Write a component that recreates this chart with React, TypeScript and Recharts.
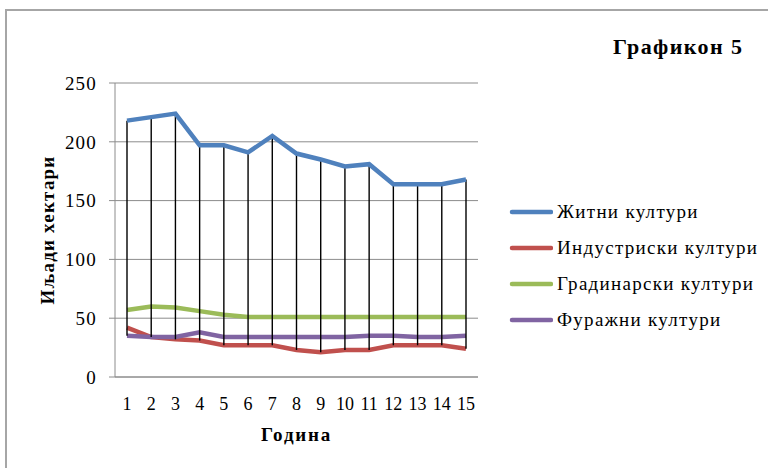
import React from 'react';
import { LineChart, Line, XAxis, YAxis, CartesianGrid, ErrorBar } from 'recharts';

const years = ['1', '2', '3', '4', '5', '6', '7', '8', '9', '10', '11', '12', '13', '14', '15'];
const zhitni = [218, 221, 224, 197, 197, 191, 205, 190, 185, 179, 181, 164, 164, 164, 168];
const industriski = [42, 34, 32, 31, 27, 27, 27, 23, 21, 23, 23, 27, 27, 27, 24];
const gradinarski = [57, 60, 59, 56, 53, 51, 51, 51, 51, 51, 51, 51, 51, 51, 51];
const furazhni = [35, 34, 34, 38, 34, 34, 34, 34, 34, 34, 35, 35, 34, 34, 35];
const yTicks = [0, 50, 100, 150, 200, 250];

const seriesKeys = ['zhitni', 'industriski', 'gradinarski', 'furazhni'];
const seriesNames = ['Житни култури', 'Индустриски култури', 'Градинарски култури', 'Фуражни култури'];
const seriesColors = ['#4F81BD', '#C0504D', '#9BBB59', '#8064A2'];

const chartTitle = 'Графикон 5';
const xTitle = 'Година';
const yTitle = 'Иљади хектари';

const data = years.map((y, i) => {
  const vals = [zhitni[i], industriski[i], gradinarski[i], furazhni[i]];
  const lo = Math.min(...vals);
  const hi = Math.max(...vals);
  return {
    year: y,
    zhitni: zhitni[i],
    industriski: industriski[i],
    gradinarski: gradinarski[i],
    furazhni: furazhni[i],
    hl: [zhitni[i] - lo, hi - zhitni[i]],
  };
});

const FONT = '"Liberation Serif", "Times New Roman", serif';
const LW = 4.5;

export default function App() {
  return (
    <div style={{ position: 'fixed', left: 0, top: 0, width: 768, height: 468, overflow: 'hidden', background: '#fff' }}>
      <div style={{ position: 'absolute', left: 5, top: 9, width: 763, height: 2, background: '#A6A6A6' }} />
      <div style={{ position: 'absolute', left: 5, top: 9, width: 2, height: 459, background: '#A6A6A6' }} />
      <div style={{ position: 'absolute', left: 613, top: 34, fontFamily: FONT, fontSize: 22, letterSpacing: 1.4, fontWeight: 'bold', color: '#000', whiteSpace: 'nowrap' }}>
        {chartTitle}
      </div>
      <div style={{ position: 'absolute', left: 506, top: 194, fontFamily: FONT, fontSize: 19, letterSpacing: 1.3, color: '#000' }}>
        {seriesNames.map((n, i) => (
          <div key={n} style={{ display: 'flex', alignItems: 'center', height: 36, whiteSpace: 'nowrap' }}>
            <svg width={47} height={8} style={{ marginRight: 4 }}>
              <line x1={6} y1={4} x2={45} y2={4} stroke={seriesColors[i]} strokeWidth={LW} strokeLinecap="round" />
            </svg>
            <span>{n}</span>
          </div>
        ))}
      </div>
      <div style={{ position: 'absolute', left: 0, top: 0 }}>
        <LineChart width={768} height={468} data={data} margin={{ top: 83, right: 290, bottom: 21, left: 35 }} style={{ fontFamily: FONT }}>
          <CartesianGrid vertical={false} stroke="#8C8C8C" strokeWidth={1} />
          <XAxis
            dataKey="year"
            height={70}
            stroke="#8C8C8C"
            tickLine={false}
            tickSize={6}
            tickMargin={14}
            padding={{ left: 12, right: 12 }}
            tick={{ fill: '#000', fontSize: 18, fontFamily: FONT }}
            interval={0}
            label={{ value: xTitle, position: 'insideBottom', offset: 6, fill: '#000', fontSize: 19, fontWeight: 'bold', fontFamily: FONT, letterSpacing: 1.8 }}
          />
          <YAxis
            width={80}
            domain={[0, 250]}
            ticks={yTicks}
            stroke="#8C8C8C"
            tickSize={6}
            tickMargin={12}
            tick={{ fill: '#000', fontSize: 19, fontFamily: FONT, letterSpacing: 1.2 }}
            label={{ value: yTitle, angle: -90, position: 'insideLeft', offset: 12, fill: '#000', fontSize: 19, fontWeight: 'bold', fontFamily: FONT, letterSpacing: 1.2, style: { textAnchor: 'middle' } }}
          />
          <Line dataKey={seriesKeys[1]} name={seriesNames[1]} stroke={seriesColors[1]} strokeWidth={LW} dot={false} isAnimationActive={false} />
          <Line dataKey={seriesKeys[2]} name={seriesNames[2]} stroke={seriesColors[2]} strokeWidth={LW} dot={false} isAnimationActive={false} />
          <Line dataKey={seriesKeys[3]} name={seriesNames[3]} stroke={seriesColors[3]} strokeWidth={LW} dot={false} isAnimationActive={false} />
          <Line dataKey={seriesKeys[0]} name={seriesNames[0]} stroke={seriesColors[0]} strokeWidth={LW} dot={false} isAnimationActive={false}>
            <ErrorBar dataKey="hl" direction="y" width={0} stroke="#000" strokeWidth={1.4} isAnimationActive={false} />
          </Line>
        </LineChart>
      </div>
    </div>
  );
}
